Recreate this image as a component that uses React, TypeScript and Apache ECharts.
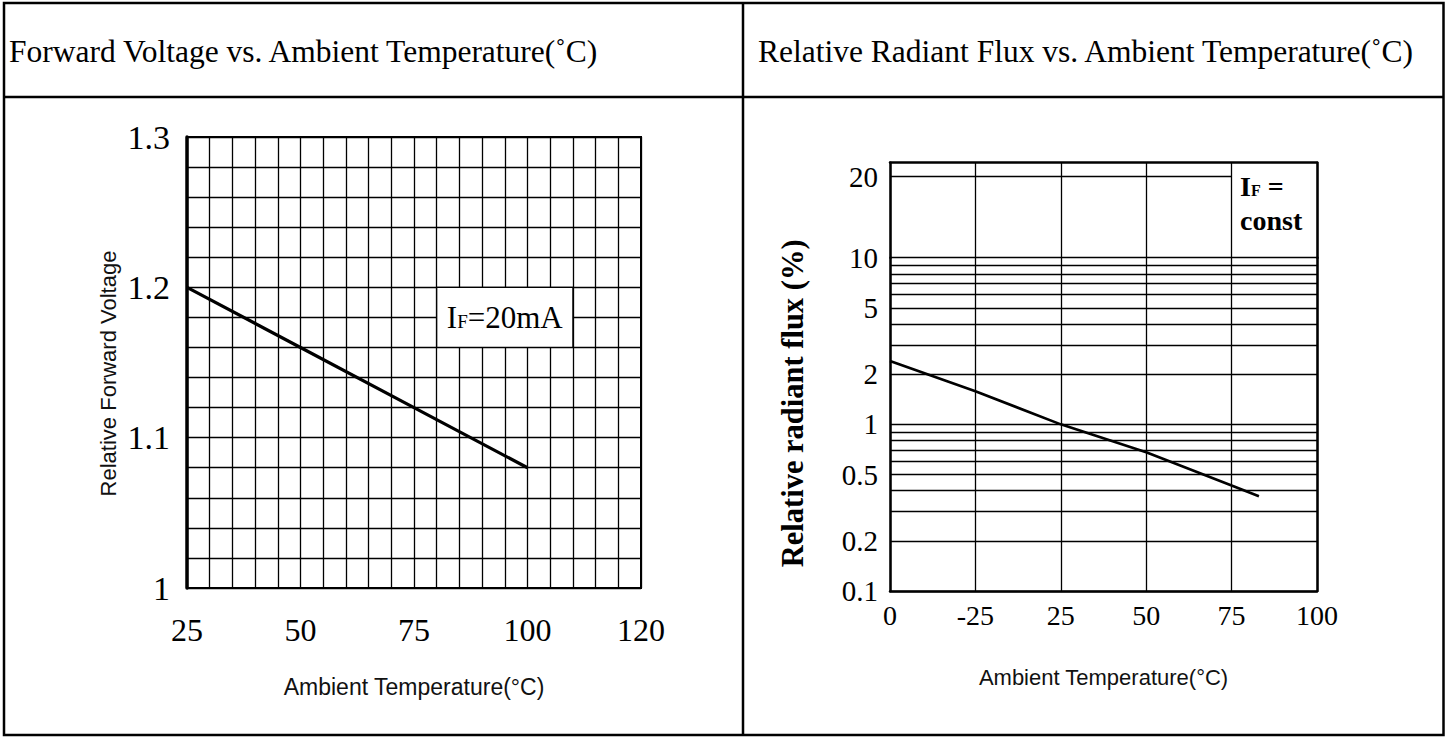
import React, { useEffect, useRef } from "react";
import * as echarts from "echarts";

// ---------- Left chart: Relative Forward Voltage vs Ambient Temperature ----------
const fvTemps = [25, 50, 75, 100];
const fvValues = [1.2, 1.16, 1.12, 1.08];
const fvXTickValues = [25, 50, 75, 100, 125];
const fvXTickLabels = ["25", "50", "75", "100", "120"];
const fvYTickValues = [1.0, 1.1, 1.2, 1.3];
const fvYTickLabels = ["1", "1.1", "1.2", "1.3"];

// ---------- Right chart: Relative Radiant Flux vs Ambient Temperature ----------
const rfTemps = [-25, 0, 25, 50, 75, 83];
const rfValues = [2.4, 1.58, 1.0, 0.68, 0.43, 0.37];
const rfXTickValues = [-25, 0, 25, 50, 75, 100];
const rfXTickLabels = ["0", "-25", "25", "50", "75", "100"];
const rfYTickValues = [0.1, 0.2, 0.5, 1, 2, 5, 10];
const rfYTickLabels = ["0.1", "0.2", "0.5", "1", "2", "5", "10"];
const rfGridValues = [0.2, 0.3, 0.4, 0.5, 0.6, 0.7, 0.8, 0.9, 1, 2, 3, 4, 5, 6, 7, 8, 9, 10];
const rfUpperTickValue = 20;
const rfUpperTickLabel = "20";

const SERIF = '"Liberation Serif", "Times New Roman", serif';
const SANS = '"Liberation Sans", Arial, sans-serif';

function pick(values: number[], labels: string[], v: number): string {
  const i = values.findIndex((t) => Math.abs(t - v) < 1e-6);
  return i >= 0 ? labels[i] : "";
}

export default function App() {
  const ref = useRef<HTMLDivElement>(null);

  useEffect(() => {
    document.body.style.margin = "0";
    if (!ref.current) return;
    const chart = echarts.init(ref.current, undefined, { renderer: "svg" });

    const rfLineValues = Array.from(new Set([...rfYTickValues, ...rfGridValues])).sort((a, b) => a - b);
    const rfMarkLines = rfLineValues.map((v) => {
      const lbl = pick(rfYTickValues, rfYTickLabels, v);
      return {
        yAxis: v,
        label: {
          show: lbl !== "",
          formatter: lbl,
          position: "start",
          distance: 12,
          fontSize: 29,
          fontFamily: SERIF,
          color: "#000",
        },
      };
    });

    const border = { color: "#000", width: 2.5 };

    const option: any = {
      animation: false,
      backgroundColor: "#fff",
      grid: [
        { left: 187, top: 137, width: 454, height: 451, show: true, borderColor: "#000", borderWidth: 2, backgroundColor: "transparent" },
        { left: 890, top: 257.7, width: 427, height: 333.3, show: false },
        { left: 890, top: 162.7, width: 427, height: 95, show: false },
      ],
      xAxis: [
        {
          gridIndex: 0,
          type: "value",
          min: 25,
          max: 125,
          interval: 5,
          axisLine: { show: true, onZero: false, lineStyle: { color: "#000", width: 2 } },
          axisTick: { show: false },
          splitLine: { show: true, lineStyle: { color: "#000", width: 1.3 } },
          axisLabel: {
            show: true,
            margin: 26,
            fontSize: 32,
            fontFamily: SERIF,
            color: "#000",
            showMinLabel: true,
            showMaxLabel: true,
            formatter: (v: number) => pick(fvXTickValues, fvXTickLabels, v),
          },
          name: "Ambient Temperature(°C)",
          nameLocation: "middle",
          nameGap: 87,
          nameTextStyle: { fontFamily: SANS, fontSize: 23, color: "#111" },
        },
        {
          gridIndex: 1,
          type: "value",
          min: -25,
          max: 100,
          interval: 25,
          axisLine: { show: true, onZero: false, lineStyle: border },
          axisTick: { show: false },
          splitLine: { show: true, lineStyle: { color: "#000", width: 1.3 } },
          axisLabel: {
            show: true,
            margin: 10,
            fontSize: 28,
            fontFamily: SERIF,
            color: "#000",
            showMinLabel: true,
            showMaxLabel: true,
            formatter: (v: number) => pick(rfXTickValues, rfXTickLabels, v),
          },
          name: "Ambient Temperature(°C)",
          nameLocation: "middle",
          nameGap: 75,
          nameTextStyle: { fontFamily: SANS, fontSize: 22, color: "#111" },
        },
        {
          gridIndex: 2,
          type: "value",
          position: "top",
          min: -25,
          max: 100,
          interval: 25,
          axisLine: { show: true, onZero: false, lineStyle: border },
          axisTick: { show: false },
          axisLabel: { show: false },
          splitLine: { show: true, lineStyle: { color: "#000", width: 1.3 } },
        },
      ],
      yAxis: [
        {
          gridIndex: 0,
          type: "value",
          min: 1.0,
          max: 1.3,
          interval: 0.02,
          axisLine: { show: true, onZero: false, lineStyle: { color: "#000", width: 3.5 } },
          axisTick: { show: false },
          splitLine: { show: true, lineStyle: { color: "#000", width: 1.3 } },
          axisLabel: {
            show: true,
            margin: 17,
            fontSize: 34,
            fontFamily: SERIF,
            color: "#000",
            showMinLabel: true,
            showMaxLabel: true,
            formatter: (v: number) => pick(fvYTickValues, fvYTickLabels, v),
          },
          name: "Relative Forward Voltage",
          nameLocation: "middle",
          nameGap: 68,
          nameRotate: 90,
          nameTextStyle: { fontFamily: SANS, fontSize: 22, color: "#111", padding: [0, 22, 0, 0] },
        },
        {
          gridIndex: 1,
          type: "log",
          logBase: 10,
          min: 0.1,
          max: 10,
          axisLine: { show: true, onZero: false, lineStyle: border },
          axisTick: { show: false },
          axisLabel: { show: false },
          splitLine: { show: false },
          name: "Relative radiant flux (%)",
          nameLocation: "middle",
          nameGap: 82,
          nameRotate: 90,
          nameTextStyle: { fontFamily: SERIF, fontWeight: "bold", fontSize: 30.5, color: "#000", padding: [0, 0, 0, 42] },
        },
        {
          gridIndex: 2,
          type: "log",
          logBase: 10,
          min: 10,
          max: 22.55,
          axisLine: { show: true, onZero: false, lineStyle: border },
          axisTick: { show: false },
          axisLabel: { show: false },
          splitLine: { show: false },
        },
        {
          gridIndex: 1,
          type: "log",
          logBase: 10,
          position: "right",
          min: 0.1,
          max: 10,
          axisLine: { show: true, onZero: false, lineStyle: border },
          axisTick: { show: false },
          axisLabel: { show: false },
          splitLine: { show: false },
        },
        {
          gridIndex: 2,
          type: "log",
          logBase: 10,
          position: "right",
          min: 10,
          max: 22.55,
          axisLine: { show: true, onZero: false, lineStyle: border },
          axisTick: { show: false },
          axisLabel: { show: false },
          splitLine: { show: false },
        },
      ],
      series: [
        {
          type: "line",
          xAxisIndex: 0,
          yAxisIndex: 0,
          data: fvTemps.map((t, i) => [t, fvValues[i]]),
          showSymbol: false,
          symbol: "none",
          lineStyle: { color: "#000", width: 3.2 },
          silent: true,
          z: 5,
          markArea: {
            silent: true,
            itemStyle: { color: "#fff", borderColor: "#000", borderWidth: 1.3 },
            label: {
              show: true,
              position: "inside",
              formatter: "{i|I}{f|F}{n|=20mA}",
              rich: {
                i: { fontFamily: SERIF, fontSize: 31, color: "#000", verticalAlign: "bottom" },
                f: { fontFamily: SERIF, fontSize: 19, color: "#000", verticalAlign: "bottom", padding: [0, 0, 2, 0] },
                n: { fontFamily: SERIF, fontSize: 31, color: "#000", verticalAlign: "bottom" },
              },
            },
            data: [[{ xAxis: 80, yAxis: 1.2 }, { xAxis: 110, yAxis: 1.16 }]],
          },
        },
        {
          type: "line",
          xAxisIndex: 1,
          yAxisIndex: 1,
          data: rfTemps.map((t, i) => [t, rfValues[i]]),
          showSymbol: false,
          symbol: "none",
          lineStyle: { color: "#000", width: 2.6 },
          silent: true,
          z: 5,
          markLine: {
            silent: true,
            symbol: ["none", "none"],
            lineStyle: { color: "#000", width: 1.4, type: "solid" },
            emphasis: { disabled: true },
            data: rfMarkLines,
          },
        },
        {
          type: "line",
          xAxisIndex: 2,
          yAxisIndex: 2,
          data: [],
          showSymbol: false,
          silent: true,
          markLine: {
            silent: true,
            symbol: ["none", "none"],
            lineStyle: { color: "#000", width: 1.4, type: "solid" },
            emphasis: { disabled: true },
            label: {
              show: true,
              formatter: rfUpperTickLabel,
              position: "start",
              distance: 12,
              fontSize: 29,
              fontFamily: SERIF,
              color: "#000",
            },
            data: [[{ coord: [-25, rfUpperTickValue] }, { coord: [75, rfUpperTickValue] }]],
          },
        },
      ],
      graphic: [
        {
          type: "rect",
          silent: true,
          shape: { x: 4, y: 3, width: 1439.5, height: 732 },
          style: { fill: "none", stroke: "#000", lineWidth: 2.5 },
          z: 100,
        },
        {
          type: "line",
          silent: true,
          shape: { x1: 4, y1: 97, x2: 1443.5, y2: 97 },
          style: { stroke: "#000", lineWidth: 2.5 },
          z: 100,
        },
        {
          type: "line",
          silent: true,
          shape: { x1: 743, y1: 3, x2: 743, y2: 735 },
          style: { stroke: "#000", lineWidth: 2.5 },
          z: 100,
        },
        {
          type: "text",
          silent: true,
          x: 9,
          y: 51.5,
          style: {
            text: "Forward Voltage vs. Ambient Temperature(˚C)",
            fontFamily: SERIF,
            fontSize: 31.5,
            fill: "#000",
            align: "left",
            verticalAlign: "middle",
          },
        },
        {
          type: "text",
          silent: true,
          x: 758,
          y: 51.5,
          style: {
            text: "Relative Radiant Flux vs. Ambient Temperature(˚C)",
            fontFamily: SERIF,
            fontSize: 31.5,
            fill: "#000",
            align: "left",
            verticalAlign: "middle",
          },
        },
        {
          type: "text",
          silent: true,
          x: 1240,
          y: 186,
          style: {
            text: "{i|I}{f|F}{e| =}",
            rich: {
              i: { fontFamily: SERIF, fontWeight: "bold", fontSize: 28, fill: "#000", verticalAlign: "bottom" },
              f: { fontFamily: SERIF, fontWeight: "bold", fontSize: 16, fill: "#000", verticalAlign: "bottom", padding: [0, 0, 2, 0] },
              e: { fontFamily: SERIF, fontWeight: "bold", fontSize: 28, fill: "#000", verticalAlign: "bottom" },
            },
            align: "left",
            verticalAlign: "middle",
          },
        },
        {
          type: "text",
          silent: true,
          x: 1240,
          y: 220,
          style: {
            text: "const",
            fontFamily: SERIF,
            fontWeight: "bold",
            fontSize: 28,
            fill: "#000",
            align: "left",
            verticalAlign: "middle",
          },
        },
      ],
    };

    chart.setOption(option);
    return () => {
      chart.dispose();
    };
  }, []);

  return <div ref={ref} style={{ width: 1450, height: 737 }} />;
}
